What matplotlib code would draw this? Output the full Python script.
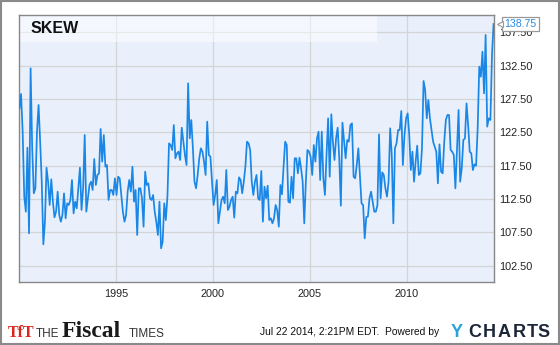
import matplotlib
matplotlib.use("Agg")
import matplotlib.pyplot as plt
from matplotlib.patches import Rectangle
from matplotlib.transforms import blended_transform_factory
import pandas as pd

# ---- data (SKEW index) ----
seg_1990_1994 = [126.1, 128.25, 122.6, 112.85, 110.6, 120.2, 107.35, 132.1, 120.1, 113.35,
                 114.1, 122.6, 126.6, 121.1, 115.1, 105.7, 109.1, 117.2, 115.1, 111.6,
                 115.45, 112.1, 109.75, 110.6, 113.6, 110.1, 109.1, 110.1, 113.35, 109.6,
                 111.85, 111.6, 112.35, 115.35, 110.35, 112.1, 111.1, 114.1, 117.2, 110.85,
                 114.1, 122.1, 110.6, 112.6, 114.6, 115.1, 113.85, 118.5, 114.6, 116.1,
                 116.35, 123.0, 118.1, 122.1, 117.35, 117.6, 112.35, 113.85, 113.85, 113.1,
                 115.6]
seg_1995_1999 = [113.1, 115.85, 115.6, 113.1, 110.6, 109.1, 110.1, 113.6, 115.35, 113.6,
                 117.35, 112.1, 113.85, 107.1, 114.1, 114.1, 112.6, 108.35, 116.6, 114.6,
                 114.85, 112.6, 112.35, 113.1, 110.6, 109.1, 107.1, 112.1, 105.1, 106.1,
                 111.85, 109.35, 112.85, 120.85, 120.6, 119.85, 123.6, 118.6, 119.35, 119.6,
                 118.35, 123.2, 121.1, 119.1, 117.6, 129.85, 121.6, 124.35, 120.1, 115.1,
                 114.1, 116.1, 118.6, 120.1, 119.6, 118.1, 116.1, 124.1, 119.1, 118.85]
seg_2000_2004 = [115.1, 111.6, 113.1, 115.35, 108.85, 110.6, 112.35, 112.85, 111.85, 116.85,
                 110.85, 111.35, 112.35, 112.85, 109.7, 113.6, 113.35, 115.75, 115.35, 113.35,
                 115.1, 117.35, 121.1, 120.85, 119.85, 115.1, 113.1, 115.1, 116.1, 112.6,
                 112.35, 116.7, 109.1, 114.35, 112.6, 114.5, 109.35, 109.6, 108.85, 109.6,
                 111.6, 110.85, 108.35, 114.6, 113.2, 117.35, 121.1, 120.6, 112.1, 111.95,
                 115.85, 112.6, 118.6, 118.6, 116.35, 118.7, 117.1, 115.1, 108.85, 115.1,
                 119.85, 119.6]
seg_2005_2009 = [118.85, 116.1, 120.6, 118.1, 121.6, 122.6, 115.35, 122.6, 115.6, 113.1,
                 119.1, 124.6, 115.85, 125.2, 121.1, 118.35, 121.6, 123.2, 118.6, 111.5,
                 123.95, 121.35, 118.6, 121.35, 121.1, 123.6, 123.85, 115.85, 115.6, 117.6,
                 120.1, 115.85, 111.85, 111.6, 106.6, 109.8, 109.85, 112.6, 113.6, 112.1,
                 110.6, 110.6, 111.6, 122.2, 112.6, 116.5, 116.1, 114.1, 112.85, 115.1,
                 123.1, 119.1, 108.85, 120.1, 120.85, 122.85, 122.85, 125.7, 117.6, 122.1,
                 124.6]
seg_2010_2014 = [125.35, 122.1, 116.85, 119.6, 115.1, 118.1, 120.5, 116.1, 116.35, 120.1,
                 130.2, 128.85, 124.6, 127.35, 124.6, 122.85, 121.1, 120.35, 119.6, 114.85,
                 120.7, 116.6, 116.35, 121.1, 124.35, 125.1, 125.1, 119.85, 119.6, 119.1,
                 114.1, 119.85, 125.85, 115.1, 117.1, 121.35, 121.6, 126.85, 123.6, 119.6,
                 119.35, 116.85, 117.7, 117.5, 123.1, 132.35, 130.85, 134.6, 128.35, 137.1,
                 123.35, 124.6, 124.35, 134.1, 138.75]

skew_values = seg_1990_1994 + seg_1995_1999 + seg_2000_2004 + seg_2005_2009 + seg_2010_2014
first_date = "1990-01-10"
last_date = "2014-06-20"
dates = pd.date_range(first_date, last_date, periods=len(skew_values))

y_ticks = [102.5, 107.5, 112.5, 117.5, 122.5, 127.5, 132.5, 137.5]
x_tick_years = [1995, 2000, 2005, 2010]
last_label = "138.75"
title = "SKEW"

# ---- figure ----
W, H = 560, 345
fig = plt.figure(figsize=(W / 100, H / 100), dpi=100)
fig.patch.set_facecolor("white")

L, R, T, B = 19, 494, 15, 282
ax = fig.add_axes([L / W, (H - B) / H, (R - L) / W, (B - T) / H])
ax.set_facecolor("#e9f0fb")

ax.plot(dates, skew_values, color="#1a87e6", lw=1.25, zorder=3, solid_joinstyle="round")

ax.set_xlim(pd.Timestamp("1990-01-01"), pd.Timestamp("2014-06-28"))
ax.set_ylim(100.05, 140.1)

ax.set_yticks(y_ticks)
ax.set_yticklabels([f"{v:.2f}" for v in y_ticks])
ax.yaxis.tick_right()
ax.set_xticks([pd.Timestamp(f"{y}-01-01") for y in x_tick_years])
ax.set_xticklabels([str(y) for y in x_tick_years])

ax.tick_params(axis="both", length=0, labelsize=7.8, labelcolor="#222222")
ax.tick_params(axis="y", pad=4)
ax.tick_params(axis="x", pad=5)
for lab in ax.get_xticklabels() + ax.get_yticklabels():
    lab.set_family("Liberation Sans")

ax.grid(True, color="#d4d4d4", lw=0.9, zorder=0.5)
ax.set_axisbelow(True)
for s in ax.spines.values():
    s.set_color("#888888")
    s.set_linewidth(1.0)

# lighter title band
ax.add_patch(Rectangle((0, (B - 42) / (B - T)), (377 - L) / (R - L), 1 - (B - 42) / (B - T),
                       transform=ax.transAxes, facecolor="white", alpha=0.5,
                       edgecolor="none", zorder=1))
ax.text(0.025, 0.949, title, transform=ax.transAxes, fontsize=11.5, fontweight="bold",
        family="Liberation Sans", color="#111111", va="center", ha="left", zorder=4)

# last value callout
tr = blended_transform_factory(ax.transAxes, ax.transData)
ax.text(1.022, skew_values[-1], last_label, transform=tr, fontsize=7.6, color="#2a8ae0",
        family="Liberation Sans", va="center", ha="left", zorder=6, clip_on=False,
        bbox=dict(boxstyle="square,pad=0.22", facecolor="white", edgecolor="#999999", lw=0.9))
ax.plot([1.012], [skew_values[-1]], marker="<", markersize=5, markerfacecolor="white",
        markeredgecolor="#999999", markeredgewidth=0.8, transform=tr, clip_on=False, zorder=7)

# outer border
fig.add_artist(Rectangle((0.001, 0.002), 0.997, 0.995, transform=fig.transFigure,
                         fill=False, edgecolor="#8a8a8a", lw=1.5))

# footer: The Fiscal Times logo
fy = (H - 337) / H
fig.text(8 / W, fy, "TfT", fontsize=11.5, family="Liberation Serif", fontweight="bold",
         color="#d8281f", va="baseline", ha="left")
fig.text(36 / W, fy, "THE", fontsize=8.5, family="Liberation Sans", color="#333333",
         va="baseline", ha="left")
fig.text(62 / W, fy, "Fiscal", fontsize=17, family="Liberation Serif", fontweight="bold",
         color="#1a1a1a", va="baseline", ha="left")
fig.text(129 / W, fy, "TIMES", fontsize=8.5, family="Liberation Sans", color="#333333",
         va="baseline", ha="left")

# footer: timestamp and YCHARTS
fig.text(260 / W, (H - 335) / H, "Jul 22 2014, 2:21PM EDT.  Powered by", fontsize=7.4,
         family="Liberation Sans", color="#111111", va="baseline", ha="left")
ych_letters = ["Y", "C", "H", "A", "R", "T", "S"]
ych_x = [457, 474.5, 489, 504, 519, 532, 543.5]
ych_col = ["#2aa0dc", "#1c2638", "#1c2638", "#1c2638", "#1c2638", "#1c2638", "#1c2638"]
for ch, xx, cc in zip(ych_letters, ych_x, ych_col):
    fig.text(xx / W, (H - 337) / H, ch, fontsize=13, fontweight="bold", family="Liberation Sans",
             color=cc, va="baseline", ha="center")

fig.savefig("out.png", dpi=100, facecolor="white")
